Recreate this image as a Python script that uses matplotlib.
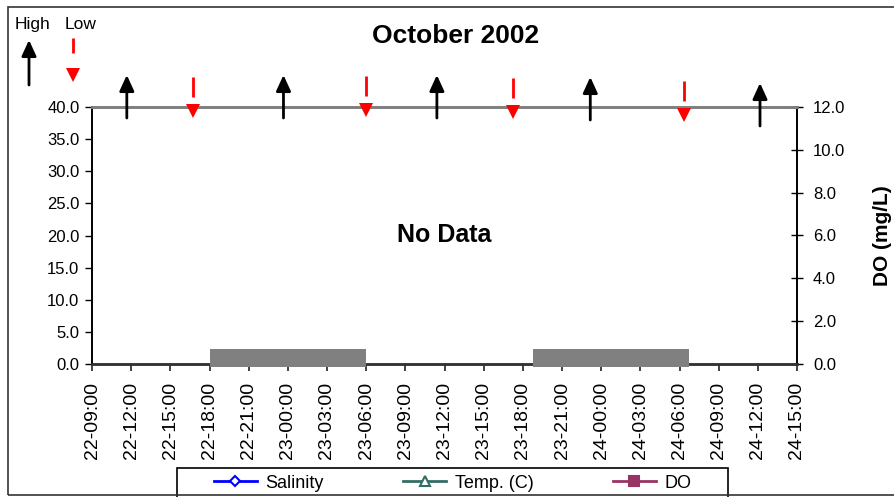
import datetime as dt
import matplotlib
matplotlib.use("Agg")
import matplotlib.pyplot as plt
import matplotlib.dates as mdates
import matplotlib.transforms as mtransforms
from matplotlib.lines import Line2D
from matplotlib.patches import Rectangle, FancyArrowPatch

plt.rcParams['font.family'] = ['Liberation Sans', 'DejaVu Sans']

# ---------------- data ----------------
title = "October 2002"
x_start = "2002-10-22 09:00"
x_end = "2002-10-24 15:00"
tick_step_hours = 3
left_ticks = [0, 5, 10, 15, 20, 25, 30, 35, 40]
right_ticks = [0, 2, 4, 6, 8, 10, 12]
right_label = "DO (mg/L)"
series_names = ["Salinity", "Temp. (C)", "DO"]
series_colors = ["#0000FF", "#336E66", "#993366"]
series_markers = ["D", "^", "s"]
night_start = ["2002-10-22 18:00", "2002-10-23 18:45"]
night_end = ["2002-10-23 06:00", "2002-10-24 06:45"]
night_level = [2.4, 2.4]
high_tides = ["2002-10-22 11:40", "2002-10-22 23:40", "2002-10-23 11:25",
              "2002-10-23 23:10", "2002-10-24 12:10"]
low_tides = ["2002-10-22 16:45", "2002-10-23 06:00", "2002-10-23 17:15",
             "2002-10-24 06:20"]
no_data_text = "No Data"


def t(s):
    return mdates.date2num(dt.datetime.strptime(s, "%Y-%m-%d %H:%M"))


W, H = 894, 497
fig = plt.figure(figsize=(W / 100, H / 100), dpi=100)


def fx(px):
    return px / W


def fy(py):
    return 1 - py / H


ax = fig.add_axes([fx(92), fy(364), fx(797) - fx(92), fy(107) - fy(364)])
ax2 = ax.twinx()

x0, x1 = t(x_start), t(x_end)
ax.set_xlim(x0, x1)
ax.set_ylim(0, 40)
ax2.set_ylim(0, 12)

ax.xaxis.set_major_locator(mdates.HourLocator(byhour=range(0, 24, tick_step_hours)))
ax.xaxis.set_major_formatter(mdates.DateFormatter("%d-%H:%M"))
ax.set_yticks(left_ticks)
ax.set_yticklabels([f"{v:.1f}" for v in left_ticks])
ax2.set_yticks(right_ticks)
ax2.set_yticklabels([f"{v:.1f}" for v in right_ticks])

ax.tick_params(axis='x', direction='out', length=5, width=1.2, labelsize=14,
               labelrotation=90, pad=8, color='#222222')
ax.tick_params(axis='y', direction='out', length=5, width=1.0, labelsize=12, pad=4)
ax2.tick_params(axis='y', direction='inout', length=9, width=1.0, labelsize=12, pad=7)

for a in (ax, ax2):
    a.spines['top'].set_color('#808080')
    a.spines['top'].set_linewidth(2)
    a.spines['left'].set_color('black')
    a.spines['right'].set_color('black')
    a.spines['bottom'].set_color('#333333')
    a.spines['bottom'].set_linewidth(1.8)
    a.spines['left'].set_linewidth(1.2)
    a.spines['right'].set_linewidth(1.2)

# night bars
for s, e, lvl in zip(night_start, night_end, night_level):
    ax2.bar(t(s), (lvl + 0.4) * 12 / 40, bottom=-0.4 * 12 / 40, width=t(e) - t(s),
            align='edge', color='#808080', edgecolor='none', zorder=3, clip_on=False)

# text
fig.text(fx(456), fy(43), title, ha='center', va='baseline', fontsize=19, fontweight='bold')
ax2.text(0.5, 0.5, no_data_text, transform=ax2.transAxes, ha='center', va='center',
         fontsize=18, fontweight='bold')
fig.text(fx(873), 0.5 * (fy(107) + fy(364)), right_label, rotation=90, ha='left',
         va='center', fontsize=15, fontweight='bold')

# tide arrows
blend = mtransforms.blended_transform_factory(ax2.transData, fig.transFigure)
high_dy = [0, 0, 0, 2, 8]
low_dy = [0, -1, 1, 4]
for s, d in zip(high_tides, high_dy):
    x = t(s)
    ax2.annotate('', xy=(x, fy(75 + d)), xycoords=blend, xytext=(x, fy(118 + d)),
                 textcoords=blend,
                 arrowprops=dict(arrowstyle='-|>,head_length=0.48,head_width=0.22',
                                 mutation_scale=20, color='black', lw=2,
                                 shrinkA=0, shrinkB=0),
                 annotation_clip=False, zorder=6)
for s, d in zip(low_tides, low_dy):
    x = t(s)
    ax2.plot([x, x], [fy(77 + d), fy(97 + d)], transform=blend, color='red', lw=2,
             clip_on=False, solid_capstyle='butt', zorder=6)
    ax2.plot([x], [fy(111 + d)], transform=blend, marker='v', markersize=10,
             color='red', markeredgewidth=0, clip_on=False, zorder=6)

# key (High / Low)
fig.text(fx(15), fy(29), "High", ha='left', va='baseline', fontsize=12.5)
fig.text(fx(65), fy(29), "Low", ha='left', va='baseline', fontsize=12.5)
fig.add_artist(FancyArrowPatch(
    (fx(29), fy(85)), (fx(29), fy(40)), transform=fig.transFigure,
    arrowstyle='-|>,head_length=0.48,head_width=0.22', mutation_scale=20,
    color='black', lw=2, shrinkA=0, shrinkB=0))
fig.add_artist(Line2D([fx(73), fx(73)], [fy(38), fy(53)], transform=fig.transFigure,
                      color='red', lw=2, solid_capstyle='butt'))
fig.add_artist(Line2D([fx(73)], [fy(75)], transform=fig.transFigure, marker='v',
                      markersize=10, color='red', markeredgewidth=0))

# legend
handles = []
for name, c, m in zip(series_names, series_colors, series_markers):
    face = c if m == 's' else 'white'
    ms = 5 if m == 'D' else 7.5
    handles.append(Line2D([], [], color=c, lw=2, marker=m, markersize=ms,
                          markerfacecolor=face, markeredgecolor=c, markeredgewidth=1.5))
fig.legend(handles=handles, labels=series_names, ncol=3, frameon=False, fontsize=13,
           handlelength=2.4, handletextpad=0.45, columnspacing=4.4,
           loc='center', bbox_to_anchor=(fx(452.5), fy(483)))
fig.add_artist(Rectangle((fx(177), fy(500)), fx(728) - fx(177), fy(468) - fy(500),
                         transform=fig.transFigure, fill=False, edgecolor='black',
                         lw=1.2, clip_on=False))
# chart frame
fig.add_artist(Rectangle((fx(8), fy(495)), 1.2, fy(7) - fy(495),
                         transform=fig.transFigure, fill=False, edgecolor='#333333',
                         lw=1.2, clip_on=False))

fig.savefig("out.png", dpi=100)
